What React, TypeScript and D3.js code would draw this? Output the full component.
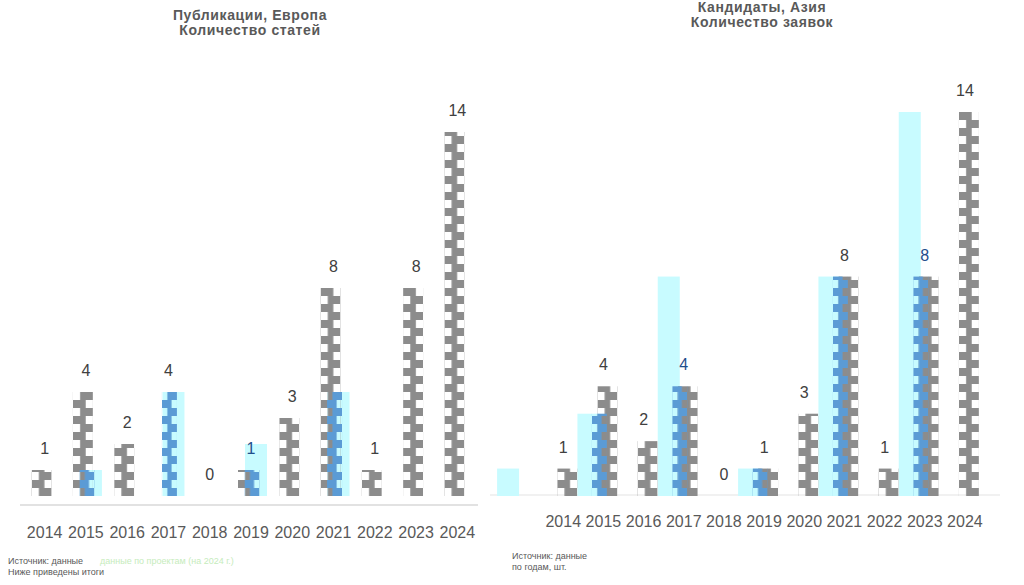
import React, { useEffect, useRef } from "react";
import * as d3 from "d3";

// ---- data ----
const years = ["2014", "2015", "2016", "2017", "2018", "2019", "2020", "2021", "2022", "2023", "2024"];
const leftGray = [1, 4, 2, 0, 0, 1, 3, 8, 1, 8, 14];
const leftBlue = [0, 1, 0, 4, 0, 1, 0, 4, 0, 0, 0];
const leftCyan = [0, 1, 0, 4, 0, 2, 0, 4, 0, 0, 0];

const rightYears = ["2013", ...years];
const rightTickLabels = ["", ...years];
const rightGray = [0, 1, 4, 2, 4, 0, 1, 3, 8, 1, 8, 14];
const rightBlue = [0, 0, 3, 0, 4, 0, 1, 0, 8, 0, 8, 0];
const rightCyan = [1, 0, 3, 0, 8, 0, 1, 0, 8, 0, 14, 0];

const leftTitle = ["Публикации, Европа", "Количество статей"];
const rightTitle = ["Кандидаты, Азия", "Количество заявок"];
const leftNotes = ["Источник: данные", "Ниже приведены итоги"];
const rightNotes = ["Источник: данные", "по годам, шт."];

const COLORS = { gray: "#8c8c8c", blue: "#5b9bd5", cyan: "#c8fbff", text: "#595959", label: "#404040", labelBlue: "#1f4e8c" };

export default function App() {
  const ref = useRef<SVGSVGElement | null>(null);

  useEffect(() => {
    const svg = d3.select(ref.current);
    svg.selectAll("*").remove();
    const defs = svg.append("defs");
    let pid = 0;

    function panel(opts: any) {
      const { cats, ticks, gray, blue, cyan, xRange, yRange, offsets, tickY, axisY, axisX, axisColor } = opts;
      const x = d3.scaleBand().domain(cats).range(xRange).paddingInner(0);
      const y = d3.scaleLinear().domain([0, 14]).range(yRange);
      const cx = (c: string) => (x(c) as number) + x.bandwidth() / 2;
      const g = svg.append("g");

      g.append("line")
        .attr("x1", axisX[0]).attr("x2", axisX[1])
        .attr("y1", axisY).attr("y2", axisY)
        .attr("stroke", axisColor).attr("stroke-width", 1.5);

      const widths: any = { cyan: 22, gray: 20, blue: 15 };
      const series = [
        { key: "cyan", vals: cyan },
        { key: "gray", vals: gray },
        { key: "blue", vals: blue },
      ];
      series.forEach((s) => {
        cats.forEach((c: string, i: number) => {
          const v = s.vals[i];
          if (!v) return;
          const w = widths[s.key];
          const bx = cx(c) + offsets[s.key] - w / 2;
          const by = y(v);
          const bh = y(0) - y(v);
          let fill = (COLORS as any)[s.key];
          if (s.key !== "cyan") {
            const id = "p" + pid++;
            const p = defs.append("pattern")
              .attr("id", id).attr("patternUnits", "userSpaceOnUse")
              .attr("x", bx).attr("y", y(0)).attr("width", w).attr("height", 16);
            p.append("rect").attr("x", 0).attr("y", 0).attr("width", w * 0.64).attr("height", 8).attr("fill", fill);
            p.append("rect").attr("x", w * 0.36).attr("y", 8).attr("width", w * 0.64).attr("height", 8).attr("fill", fill);
            fill = `url(#${id})`;
          }
          g.append("rect").attr("x", bx).attr("y", by).attr("width", w).attr("height", bh).attr("fill", fill);
        });
      });

      // value labels
      cats.forEach((c: string, i: number) => {
        if (!ticks[i]) return;
        const v = Math.max(gray[i], blue[i]);
        const isBlue = blue[i] > 0 && blue[i] === gray[i] && cyan[i] > blue[i];
        g.append("text")
          .attr("x", cx(c))
          .attr("y", y(v) - 16)
          .attr("text-anchor", "middle")
          .attr("font-family", "Liberation Sans, Arial, sans-serif")
          .attr("font-size", 16)
          .attr("fill", isBlue ? COLORS.labelBlue : COLORS.label)
          .text(String(v));
      });

      // tick labels
      cats.forEach((c: string, i: number) => {
        g.append("text")
          .attr("x", cx(c))
          .attr("y", tickY)
          .attr("text-anchor", "middle")
          .attr("font-family", "Liberation Sans, Arial, sans-serif")
          .attr("font-size", 16)
          .attr("fill", COLORS.text)
          .text(ticks[i]);
      });
    }

    panel({
      cats: years, ticks: years, gray: leftGray, blue: leftBlue, cyan: leftCyan,
      xRange: [24, 478], yRange: [496, 132],
      offsets: { gray: -3, blue: 1, cyan: 5 },
      tickY: 538, axisY: 505, axisX: [20, 478], axisColor: "#d9d9d9",
    });
    panel({
      cats: rightYears, ticks: rightTickLabels, gray: rightGray, blue: rightBlue, cyan: rightCyan,
      xRange: [503, 985], yRange: [496, 112],
      offsets: { gray: 4, blue: -4, cyan: -15 },
      tickY: 527, axisY: 495, axisX: [490, 1000], axisColor: "#ececec",
    });

    // titles
    const titles = [
      { lines: leftTitle, x: 250, ys: [20, 35] },
      { lines: rightTitle, x: 762, ys: [12, 27] },
    ];
    titles.forEach((t) => {
      t.lines.forEach((l, i) => {
        svg.append("text")
          .attr("x", t.x).attr("y", t.ys[i])
          .attr("text-anchor", "middle")
          .attr("font-family", "Liberation Sans, Arial, sans-serif")
          .attr("font-weight", "bold")
          .attr("font-size", 14)
          .attr("letter-spacing", 0.6)
          .attr("fill", COLORS.text)
          .text(l);
      });
    });

    // notes
    const notes = [
      { lines: leftNotes, x: 8, ys: [564, 575] },
      { lines: rightNotes, x: 512, ys: [559, 570] },
    ];
    notes.forEach((n) => {
      n.lines.forEach((l) => l);
      n.lines.forEach((l, i) => {
        svg.append("text")
          .attr("x", n.x).attr("y", n.ys[i])
          .attr("font-family", "Liberation Sans, Arial, sans-serif")
          .attr("font-size", 9)
          .attr("fill", COLORS.text)
          .text(l);
      });
    });
    svg.append("text")
      .attr("x", 100).attr("y", 564)
      .attr("font-family", "Liberation Sans, Arial, sans-serif")
      .attr("font-size", 9)
      .attr("fill", "#c6ecbc")
      .text("данные по проектам (на 2024 г.)");
  }, []);

  return (
    <svg
      ref={ref}
      width={1024}
      height={585}
      style={{ position: "absolute", left: 0, top: 0, background: "#fff" }}
    />
  );
}
